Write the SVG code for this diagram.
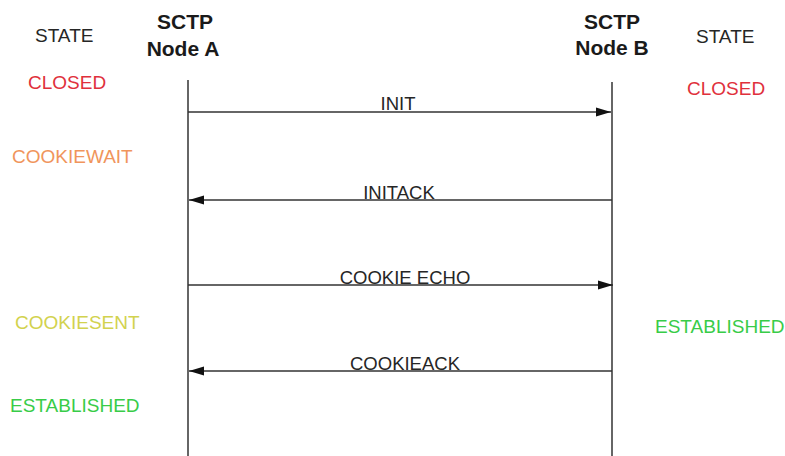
<svg xmlns="http://www.w3.org/2000/svg" width="785" height="456" viewBox="0 0 785 456">
<style>
.t{font-family:"Liberation Sans",Arial,sans-serif;font-size:18.5px;fill:#262626}
.s{font-size:19px}
.h{font-family:"Liberation Sans",Arial,sans-serif;font-size:21px;font-weight:bold;fill:#1a1a1a;text-anchor:middle}
.m{text-anchor:middle}
.ln{stroke:#333;stroke-width:1.5;fill:none}
.closed{fill:#e0303c}
.wait{fill:#f0955c}
.sent{fill:#d2d24e}
.est{fill:#38cc48}
</style>
<defs>
<marker id="ah" markerWidth="15" markerHeight="10" refX="15" refY="5" orient="auto" markerUnits="userSpaceOnUse">
<path d="M0,0.5 L15,5 L0,9.5 z" fill="#111"/>
</marker>
</defs>
<rect width="785" height="456" fill="#fff"/>
<g id="nodeA">
<text class="h" x="185" y="29">SCTP</text>
<text class="h" x="183" y="56">Node A</text>
<line class="ln" x1="188" y1="80" x2="188" y2="456"/>
</g>
<g id="nodeB">
<text class="h" x="612" y="29">SCTP</text>
<text class="h" x="612" y="55">Node B</text>
<line class="ln" x1="612" y1="82" x2="612" y2="456"/>
</g>
<g id="statesA">
<text class="t s" x="35" y="42">STATE</text>
<text class="t s closed" x="28" y="89">CLOSED</text>
<text class="t s wait" x="12" y="163">COOKIEWAIT</text>
<text class="t s sent" x="15" y="329">COOKIESENT</text>
<text class="t s est" x="10" y="412">ESTABLISHED</text>
</g>
<g id="statesB">
<text class="t s" x="696" y="43">STATE</text>
<text class="t s closed" x="687" y="95">CLOSED</text>
<text class="t s est" x="655" y="333">ESTABLISHED</text>
</g>
<g id="connectors">
<line class="ln" x1="188" y1="112" x2="611" y2="112" marker-end="url(#ah)"/>
<text class="t m" x="398" y="110">INIT</text>
<line class="ln" x1="612" y1="200" x2="189" y2="200" marker-end="url(#ah)"/>
<text class="t m" x="399" y="199">INITACK</text>
<line class="ln" x1="188" y1="285" x2="613" y2="285" marker-end="url(#ah)"/>
<text class="t m" x="405" y="284">COOKIE ECHO</text>
<line class="ln" x1="612" y1="371" x2="189" y2="371" marker-end="url(#ah)"/>
<text class="t m" x="405" y="370">COOKIEACK</text>
</g>
</svg>
